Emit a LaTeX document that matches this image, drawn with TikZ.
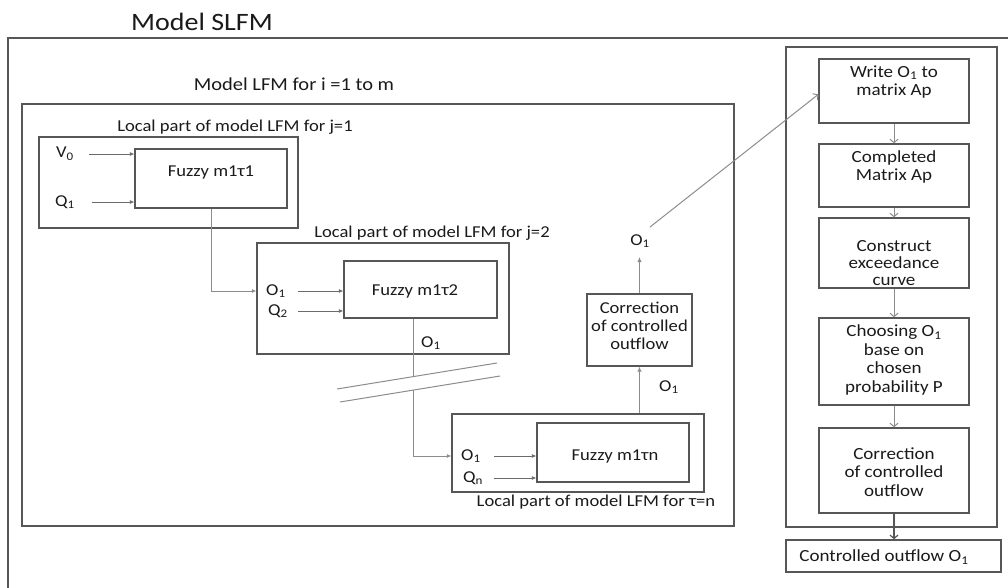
\documentclass[tikz,border=0pt]{standalone}
\usepackage{fontspec}
\setmainfont[FakeStretch=1.12]{Carlito}
\usetikzlibrary{arrows.meta,fit}
\definecolor{boxc}{HTML}{575757}
\definecolor{linec}{HTML}{8C8C8C}
\definecolor{arrc}{HTML}{6A6A6A}
\definecolor{txt}{HTML}{1A1A1A}
\newcommand{\fsz}[2]{\fontsize{#1}{#2}\selectfont}
\newcommand{\Osub}[1]{O\textsubscript{#1}}
\begin{document}
\begin{tikzpicture}[x=1pt,y=-1pt,
  frame/.style={draw=boxc, line width=1.3pt},
  bx/.style={draw=boxc, line width=1.3pt, inner sep=0pt},
  lbl/.style={text=txt, inner sep=0pt, font=\fsz{16.6}{19}},
  ttl/.style={text=txt, inner sep=0pt},
  rtxt/.style={text=txt, inner sep=0pt, align=center, font=\fsz{17}{18.6}},
  inarr/.style={draw=arrc, line width=0.8pt, -{Latex[length=4.5pt,width=4pt]}},
  conn/.style={draw=linec, line width=1pt},
  upar/.style={draw=linec, line width=1pt, -{Latex[length=5pt,width=4.5pt]}},
  varr/.style={draw=linec, line width=1pt, -{Straight Barb[length=3.5pt,width=8pt]}},
  darr/.style={draw=boxc, line width=1.2pt, -{Straight Barb[length=3.5pt,width=8pt]}}
]
\useasboundingbox (0,0) rectangle (1008,588);

% outer frame (Model SLFM)
\draw[frame] (8,590) -- (8,38) -- (1010,38);
\node[ttl, font=\fsz{25}{28}] (tslfm) at (202,22) {Model SLFM};

% Model LFM box
\node[bx, fit={(22,104)(734,526)}] (lfm) {};
\node[ttl, font=\fsz{18.3}{21}] (tlfm) at (294,84) {Model LFM for i =1 to m};

% j=1
\node[bx, fit={(39,137)(298,228)}] (j1) {};
\node[lbl] (tj1) at (235,127) {Local part of model LFM for j=1};
\node[bx, fit={(135,149)(287,208)}] (f1) {};
\node[lbl] (tf1) at (211,172) {Fuzzy m1τ1};
\node[lbl, anchor=west] (lv0) at (56,154) {V\textsubscript{0}};
\node[lbl, anchor=west] (lq1) at (55,202) {Q\textsubscript{1}};
\coordinate (sv0) at (89,154);
\coordinate (sq1) at (92,202);
\draw[inarr] (sv0) -- (sv0 -| f1.west);
\draw[inarr] (sq1) -- (sq1 -| f1.west);

% j=2
\node[bx, fit={(257,243)(509,354)}] (j2) {};
\node[lbl] (tj2) at (432,233) {Local part of model LFM for j=2};
\node[bx, fit={(344,261)(497,318)}] (f2) {};
\node[lbl] (tf2) at (415,291) {Fuzzy m1τ2};
\node[lbl, anchor=west] (lo1b) at (266,291) {\Osub{1}};
\node[lbl, anchor=west] (lq2) at (268,311) {Q\textsubscript{2}};
\coordinate (so1b) at (298,291);
\coordinate (sq2) at (298,311);
\draw[inarr] (so1b) -- (so1b -| f2.west);
\draw[inarr] (sq2) -- (sq2 -| f2.west);
\draw[conn, -{Latex[length=4.5pt,width=4pt]}] (f1.south) |- (lo1b -| j2.west);

% break
\coordinate (brk1) at (413,376.5);
\coordinate (brk2) at (413,390);
\draw[conn] (337,389) -- (497,363);
\draw[conn] (340,402) -- (500,376);
\node[lbl, anchor=west] (lo1c) at (421,343) {\Osub{1}};
\draw[conn] (f2.south -| brk1) -- (brk1);

% tau = n
\node[bx, fit={(452,414)(704,492)}] (jn) {};
\node[lbl] (tjn) at (596,502) {Local part of model LFM for τ=n};
\node[bx, fit={(537,423)(689,482)}] (fn) {};
\node[lbl] (tfn) at (615,456) {Fuzzy m1τn};
\node[lbl, anchor=west] (lo1n) at (461,456) {\Osub{1}};
\node[lbl, anchor=west] (lqn) at (463,478) {Q\textsubscript{n}};
\coordinate (so1n) at (494,456);
\coordinate (sqn) at (494,478);
\draw[inarr] (so1n) -- (so1n -| fn.west);
\draw[inarr] (sqn) -- (sqn -| fn.west);
\draw[conn, -{Latex[length=4.5pt,width=4pt]}] (brk2) |- (lo1n -| jn.west);

% correction (left)
\node[bx, fit={(587,294)(692,366)}] (corr) {};
\node[lbl, align=center, font=\fsz{16.6}{18}] (tcorr) at (639.5,326) {Correction\\of controlled\\outflow};
\draw[upar] (corr.south |- jn.north) -- (corr.south);
\node[lbl, anchor=west] (lo1d) at (659,387) {\Osub{1}};
\coordinate (tip1) at (639.5,257);
\draw[upar] (corr.north) -- (tip1);
\node[lbl] (lo1e) at (640,241) {\Osub{1}};
\coordinate (dstart) at (650,227);

% right panel
\node[bx, fit={(786,47)(997,527)}] (panel) {};
\node[bx, fit={(819,59)(969,123)}] (w) {};
\node[rtxt] (tw) at (894,82) {Write \Osub{1} to\\matrix Ap};
\node[bx, fit={(819,144)(969,207)}] (c1) {};
\node[rtxt] (tc1) at (894,167) {Completed\\Matrix Ap};
\node[bx, fit={(819,218)(969,288)}] (c2) {};
\node[rtxt, font=\fsz{17}{16.6}] (tc2) at (894,263) {Construct\\exceedance\\curve};
\node[bx, fit={(819,318)(969,405)}] (c3) {};
\node[rtxt] (tc3) at (894,360) {Choosing \Osub{1}\\base on\\chosen\\probability P};
\node[bx, fit={(819,428)(969,513)}] (c4) {};
\node[rtxt] (tc4) at (894,472) {Correction\\of controlled\\outflow};
\node[bx, fit={(786,540)(1001,572)}] (ctrl) {};
\node[rtxt] (tctrl) at (884,557) {Controlled outflow \Osub{1}};

\draw[varr] (dstart) -- ([yshift=-36pt]w.north west);
\draw[varr] (w.south) -- (c1.north);
\draw[varr] (c1.south) -- (c2.north);
\draw[varr] (c2.south) -- (c3.north);
\draw[varr] (c3.south) -- (c4.north);
\draw[darr] (c4.south) -- (ctrl.north -| c4.south);
\end{tikzpicture}
\end{document}
